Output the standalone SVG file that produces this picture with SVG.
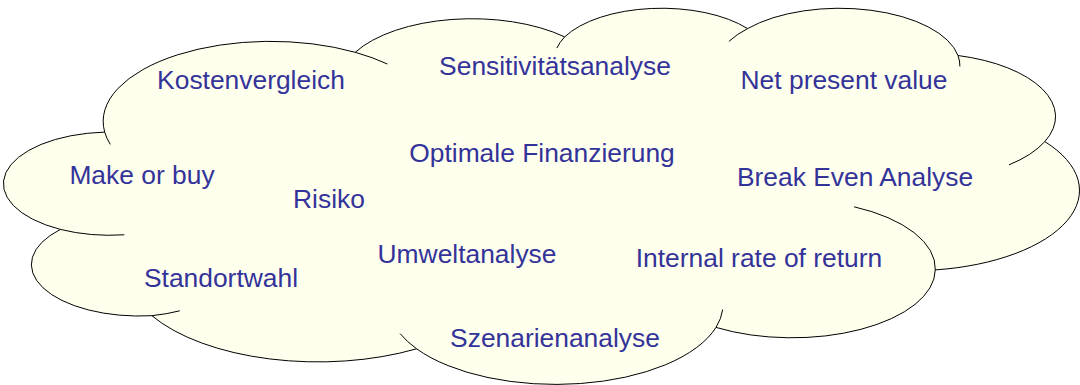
<svg xmlns="http://www.w3.org/2000/svg" width="1080" height="385" viewBox="0 0 1080 385">
<style>
.cloud{fill:#FFFFEE;stroke:#000;stroke-width:1}
.tail{fill:none;stroke:#000;stroke-width:1}
.lbl{font-family:"Liberation Sans",Arial,sans-serif;font-size:26.4px;fill:#333399;text-anchor:middle}
</style>
<g id="cloud">
<path class="cloud" d="M104.7 132.1 A167.42 79.99 0 0 1 355.2 52.3 A132.21 63.25 0 0 1 564.7 36.9 A108.22 51.74 0 0 1 747.6 28.6 A120.41 57.40 0 0 1 958.0 55.5 A132.21 63.30 0 0 1 1044.8 141.6 A167.97 80.25 0 0 1 935.3 269.9 A143.42 68.47 0 0 1 716.0 327.4 A167.40 80.20 0 0 1 416.6 348.8 A191.39 91.76 0 0 1 151.9 315.7 A108.09 51.51 0 0 1 60.4 229.4 A107.72 51.74 0 0 1 104.7 132.1 Z"/>
<path class="tail" d="M124.3 234.8 A107.72 51.74 0 0 1 60.4 229.4 M179.8 310.8 A108.09 51.51 0 0 1 151.9 315.7 M416.6 348.8 A167.40 80.20 0 0 1 400.1 333.6 M722.7 309.5 A167.40 80.20 0 0 1 716.0 327.4 M854.1 206.8 A143.42 68.47 0 0 1 935.3 269.9 M1044.8 141.6 A132.21 63.30 0 0 1 1008.9 164.9 M958.0 55.5 A120.41 57.40 0 0 1 959.9 66.5 M728.9 41.4 A120.41 57.40 0 0 1 747.6 28.6 M556.9 48.1 A108.22 51.74 0 0 1 564.7 36.9 M355.2 52.3 A167.42 79.99 0 0 1 387.4 64.0 M110.3 144.4 A167.42 79.99 0 0 1 104.7 132.1"/>
</g>
<g id="n-kostenvergleich"><text class="lbl" x="251" y="89">Kostenvergleich</text></g>
<g id="n-sensitivitaetsanalyse"><text class="lbl" x="555" y="75">Sensitivitätsanalyse</text></g>
<g id="n-npv"><text class="lbl" x="844" y="89">Net present value</text></g>
<g id="n-optimale"><text class="lbl" x="542" y="162">Optimale Finanzierung</text></g>
<g id="n-makeorbuy"><text class="lbl" x="142" y="184">Make or buy</text></g>
<g id="n-risiko"><text class="lbl" x="329" y="208">Risiko</text></g>
<g id="n-breakeven"><text class="lbl" x="855" y="186">Break Even Analyse</text></g>
<g id="n-umwelt"><text class="lbl" x="467" y="263">Umweltanalyse</text></g>
<g id="n-standort"><text class="lbl" x="221" y="287">Standortwahl</text></g>
<g id="n-irr"><text class="lbl" x="759" y="267">Internal rate of return</text></g>
<g id="n-szenarien"><text class="lbl" x="555" y="347">Szenarienanalyse</text></g>
<g id="connectors"/>
</svg>
